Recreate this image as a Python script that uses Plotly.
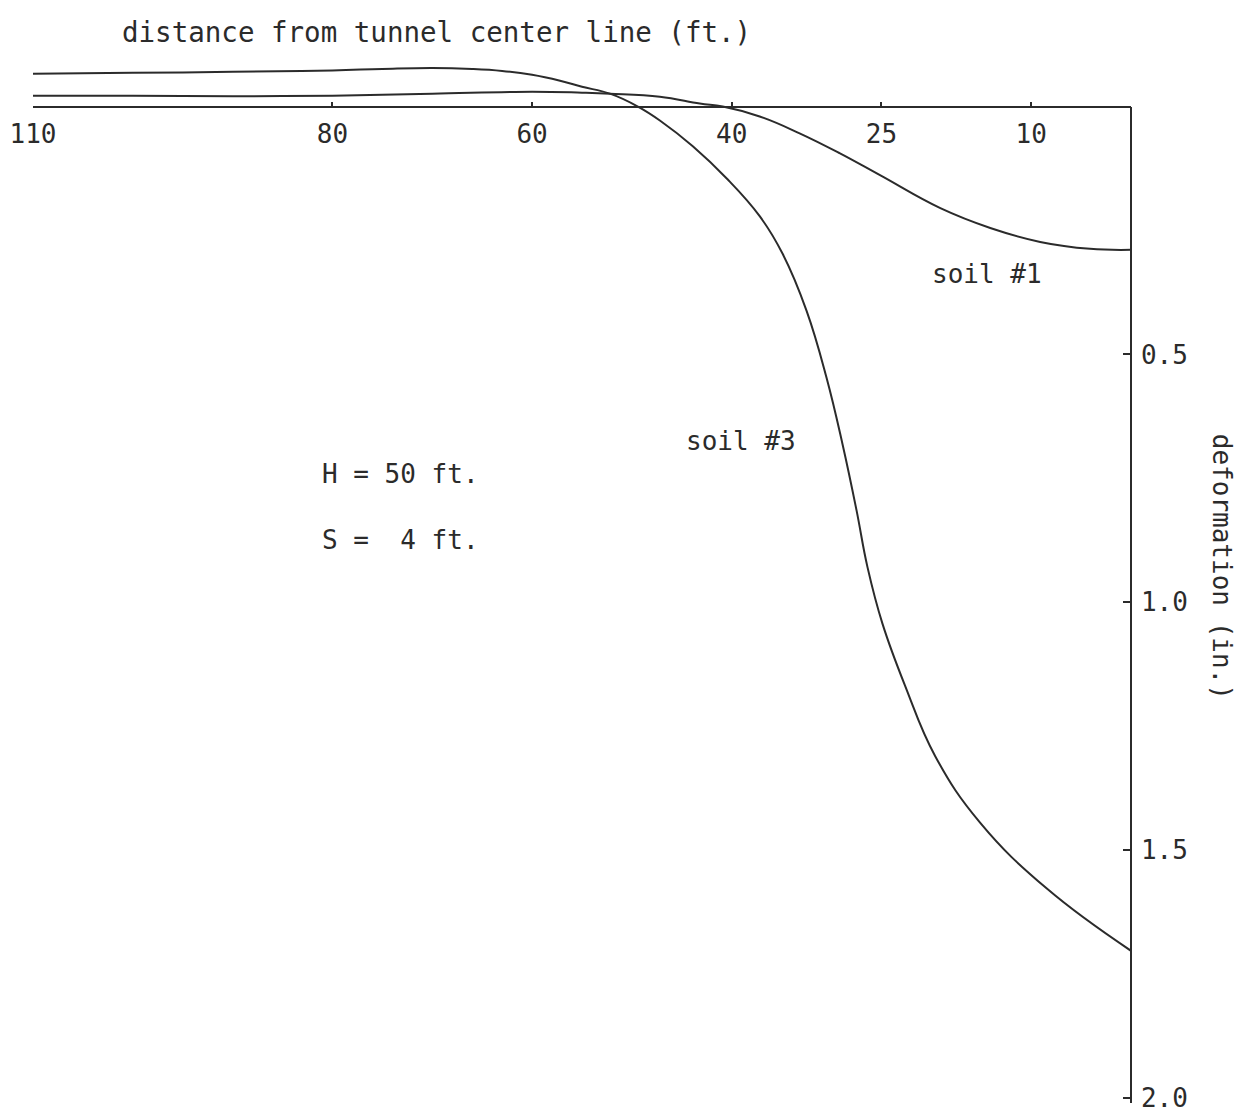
import plotly.graph_objects as go

# Surface deformation profiles vs. distance from the tunnel center line
soil1_dist = [110, 100, 90, 80, 70, 60, 55, 52.2, 47.2, 43.2, 40.9, 37.2, 33.2, 29.2, 25.1, 19.1, 14.1,
              9.1, 4.1, 0]
soil1_defl = [-0.022, -0.022, -0.021, -0.022, -0.026, -0.030, -0.028, -0.026, -0.020, -0.006, 0.0, 0.020,
              0.054, 0.094, 0.139, 0.205, 0.245, 0.273, 0.287, 0.289]

soil3_dist = [110, 100, 90, 80, 75, 70, 66, 63, 60, 57.2, 55, 52.2, 49.4, 47.2, 43.9, 40.5, 37.2, 34.9,
              32.5, 30.5, 28.9, 27.5, 26.4, 24.9, 22.6, 19.6, 15.1, 8.4, 0]
soil3_defl = [-0.066, -0.068, -0.070, -0.073, -0.076, -0.078, -0.076, -0.072, -0.064, -0.052, -0.040,
              -0.026, 0.0, 0.028, 0.080, 0.145, 0.221, 0.297, 0.412, 0.547, 0.681, 0.814, 0.929,
              1.043, 1.170, 1.311, 1.445, 1.578, 1.703]

x_ticks = [110, 80, 60, 40, 25, 10]
y_ticks = [0.5, 1.0, 1.5, 2.0]

FONT = "DejaVu Sans Mono"
INK = "#2b2b2b"

Y_TOP = -0.1      # room above the zero line for the slight heave
Y_BOTTOM = 2.01   # a hair past 2.0 so the last tick is kept
zero_frac = Y_BOTTOM / (Y_BOTTOM - Y_TOP)

fig = go.Figure()
line_style = dict(color=INK, width=2, shape="spline", smoothing=1.2)
fig.add_trace(go.Scatter(x=soil1_dist, y=soil1_defl, mode="lines", line=line_style,
                         name="soil #1", showlegend=False))
fig.add_trace(go.Scatter(x=soil3_dist, y=soil3_defl, mode="lines", line=line_style,
                         name="soil #3", showlegend=False))
# empty trace so the displayed deformation axis gets its own subplot
fig.add_trace(go.Scatter(x=[], y=[], xaxis="x", yaxis="y2", showlegend=False, hoverinfo="skip"))

fig.update_layout(
    width=1240, height=1114,
    margin=dict(l=33, r=109, t=57, b=11),
    paper_bgcolor="white", plot_bgcolor="rgba(0,0,0,0)",
    font=dict(family=FONT, size=26, color=INK),
    title=dict(text="distance from tunnel center line (ft.)",
               xref="container", yref="container",
               x=122 / 1240, y=1 - 32 / 1114, xanchor="left", yanchor="middle",
               font=dict(family=FONT, size=27.5, color=INK)),
    xaxis=dict(range=[110, 0], anchor="free", position=zero_frac, side="bottom",
               automargin=False,
               showline=True, linecolor=INK, linewidth=1.5, showgrid=False, zeroline=False,
               ticks="inside", ticklen=4, tickwidth=1.5, tickcolor=INK,
               tickvals=x_ticks, ticktext=[str(v) for v in x_ticks],
               ticklabelstandoff=4, ticklabeloverflow="allow",
               tickfont=dict(family=FONT, size=26, color=INK)),
    yaxis=dict(range=[Y_BOTTOM, Y_TOP], visible=False, showgrid=False, zeroline=False,
               automargin=False),
    yaxis2=dict(range=[Y_BOTTOM, 0], domain=[0, zero_frac], anchor="free", position=1.0,
                side="right", automargin=False,
                showline=True, linecolor=INK, linewidth=1.5,
                showgrid=False, zeroline=False,
                ticks="inside", ticklen=7, tickwidth=1.5, tickcolor=INK,
                tickvals=y_ticks, ticktext=[f"{v:.1f}" for v in y_ticks],
                ticklabelstandoff=4, ticklabeloverflow="allow",
                tickfont=dict(family=FONT, size=26, color=INK)),
)

text_font = dict(family=FONT, size=26, color=INK)
fig.add_annotation(x=14.4, y=0.338, xref="x", yref="y", text="soil #1",
                   showarrow=False, font=text_font)
fig.add_annotation(x=39.1, y=0.674, xref="x", yref="y", text="soil #3",
                   showarrow=False, font=text_font)
fig.add_annotation(x=81.2, y=0.742, xref="x", yref="y", text="H = 50 ft.",
                   showarrow=False, xanchor="left", font=text_font)
fig.add_annotation(x=81.2, y=0.875, xref="x", yref="y", text="S = \u00a04 ft.",
                   showarrow=False, xanchor="left", font=text_font)
# axis title on the right, reading top to bottom
fig.add_annotation(x=1.098, y=0.513, xref="paper", yref="paper",
                   text="deformation (in.)", textangle=90, showarrow=False,
                   font=text_font)

fig.write_html("out.html")
